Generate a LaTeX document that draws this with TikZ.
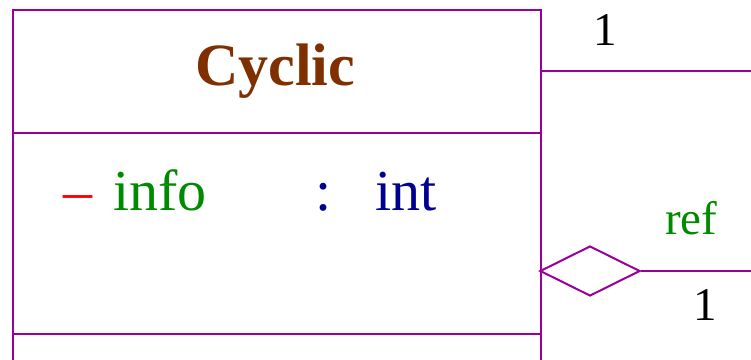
\documentclass[tikz,border=0pt]{standalone}
\usepackage{fontspec}
\setmainfont{Liberation Serif}
\usetikzlibrary{shapes.geometric}
\definecolor{umlline}{HTML}{990099}
\definecolor{umlbrown}{HTML}{803000}
\definecolor{umlgreen}{HTML}{008A00}
\definecolor{umlblue}{HTML}{000090}
\definecolor{umlred}{HTML}{FF0000}
\begin{document}
\begin{tikzpicture}[x=1pt,y=-1pt,
  line/.style={draw=umlline,line width=2pt},
  big/.style={inner sep=0pt,anchor=base west,font=\fontsize{58}{70}\selectfont},
  lbl/.style={inner sep=0pt,anchor=base west,font=\fontsize{47}{56}\selectfont}]
\useasboundingbox (0,0) rectangle (751,359);
\clip (0,0) rectangle (751,359);
% class box
\node[line,rectangle,minimum width=528pt,minimum height=351pt,inner sep=0pt,anchor=north west] (cls) at (12,9) {};
\coordinate (s1l) at (12,133); \coordinate (s1r) at (540,133);
\coordinate (s2l) at (12,334); \coordinate (s2r) at (540,334);
\draw[line] (s1l) -- (s1r);
\draw[line] (s2l) -- (s2r);
% texts
\node[big,font=\bfseries\fontsize{60}{72}\selectfont,text=umlbrown] (name) at (195,85) {Cyclic};
\node[big,text=umlred] (minus) at (63,210) {–};
\node[big,text=umlgreen] (info) at (113,210) {info};
\node[big,text=umlblue] (colon) at (315,210) {:};
\node[big,text=umlblue] (type) at (375,210) {int};
% connectors
\coordinate (a1) at (540,71);
\coordinate (a1end) at (751,71);
\draw[line] (a1) -- (a1end);
\node[lbl] (m1) at (593,45) {1};
\node[diamond,draw=umlline,line width=2pt,fill=white,inner sep=0pt,minimum width=100pt,minimum height=50pt] (dia) at (590,271) {};
\coordinate (a2end) at (751,271);
\draw[line] (dia.east) -- (a2end);
\node[lbl,text=umlgreen] (ref) at (665,234) {ref};
\node[lbl] (m2) at (693,320) {1};
\end{tikzpicture}
\end{document}
